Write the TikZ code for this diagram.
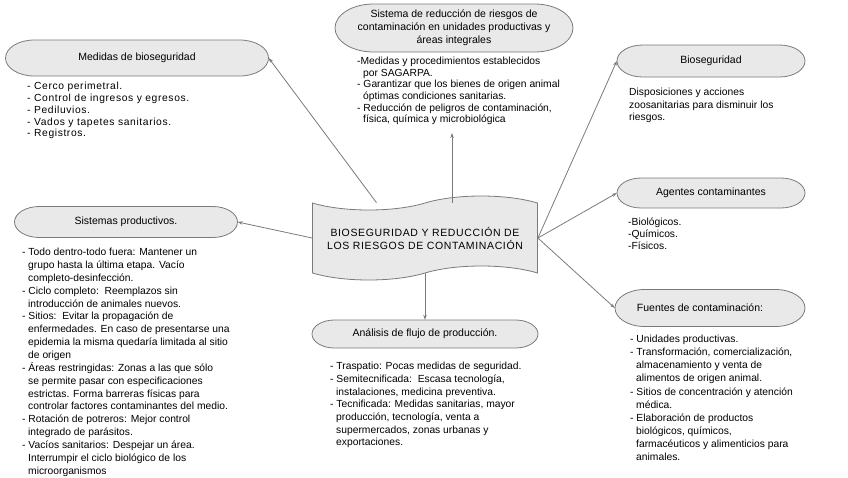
\documentclass[tikz,border=0pt]{standalone}
\usepackage{fontspec}
\setmainfont{Liberation Sans}
\newfontfamily\spacedfont[LetterSpace=6]{Liberation Sans}
\usetikzlibrary{shapes.symbols,arrows.meta,calc}

\definecolor{capfill}{HTML}{E9E9E9}
\definecolor{edgegray}{HTML}{7A7A7A}

\newcommand\ind{\hspace*{6pt}}
\newcommand\mycap[6]{%
  \pgfmathsetmacro\capE{0.8*#5}%
  \pgfmathsetmacro\capL{#2-#4/2+\capE}%
  \pgfmathsetmacro\capR{#2+#4/2-\capE}%
  \pgfmathsetmacro\capT{#3-#5/2}%
  \pgfmathsetmacro\capB{#3+#5/2}%
  \pgfmathsetmacro\capH{#5/2}%
  \filldraw[capsty] (\capL,\capT) arc[start angle=90,end angle=270,x radius=\capE pt,y radius=\capH pt]
    -- (\capR,\capB) arc[start angle=-90,end angle=90,x radius=\capE pt,y radius=\capH pt] -- cycle;
  \node[capnode,minimum width=#4pt,minimum height=#5pt] (#1) at (#2,#3) {#6};
}

\tikzset{
  capsty/.style={fill=capfill,draw=edgegray,line width=0.8pt},
  capnode/.style={draw=none,inner sep=0pt,align=center,font=\fontsize{10.5}{13}\selectfont},
  listtxt/.style={anchor=north west,inner sep=0pt,align=left},
  conn/.style={draw=edgegray,line width=0.8pt,-{Stealth[length=5pt,width=3.5pt]}},
  centerbox/.style={shape=tape,draw=edgegray,fill=capfill,line width=0.8pt,minimum width=225pt,minimum height=84pt,tape bend height=14pt,inner sep=0pt,align=center,font=\spacedfont\fontsize{10.5}{13}\selectfont}
}

\begin{document}
\begin{tikzpicture}[x=1pt,y=-1pt]
\useasboundingbox (0,0) rectangle (848,477);

% central box
\node[centerbox] (c) at (425,238) {BIOSEGURIDAD Y REDUCCIÓN DE\\LOS RIESGOS DE CONTAMINACIÓN};

% capsules
\mycap{medidas}{137}{58}{263}{36}{Medidas de bioseguridad}
\mycap{sistema}{454}{28}{238}{48}{Sistema de reducción de riesgos de\\contaminación en unidades productivas y\\áreas integrales}
\mycap{bio}{711}{61}{188}{32}{Bioseguridad}
\mycap{agentes}{711}{193}{188}{30}{Agentes contaminantes}
\mycap{fuentes}{710}{308}{190}{37}{\hspace*{-20pt}Fuentes de contaminación:}
\mycap{sistemas}{126}{222}{223}{31}{Sistemas productivos.}
\mycap{analisis}{425}{334}{226}{28}{Análisis de flujo de producción.}

% lists
\node[listtxt,font=\spacedfont\fontsize{10.3}{11.8}\selectfont] (lmedidas) at (27,82) {%
- Cerco perimetral.\\
- Control de ingresos y egresos.\\
- Pediluvios.\\
- Vados y tapetes sanitarios.\\
- Registros.};

\node[listtxt,font=\fontsize{10.3}{11.6}\selectfont] (lsistema) at (357,57) {%
-Medidas y procedimientos establecidos\\
\ind por SAGARPA.\\
- Garantizar que los bienes de origen animal\\
\ind óptimas condiciones sanitarias.\\
- Reducción de peligros de contaminación,\\
\ind física, química y microbiológica};

\node[listtxt,font=\fontsize{10.3}{12.5}\selectfont] (lbio) at (629,88) {%
Disposiciones y acciones\\
zoosanitarias para disminuir los\\
riesgos.};

\node[listtxt,font=\fontsize{10.3}{12}\selectfont] (lagentes) at (628,218) {%
-Biológicos.\\
-Químicos.\\
-Físicos.};

\node[listtxt,font=\fontsize{10.3}{13.1}\selectfont] (lfuentes) at (630,335) {%
- Unidades productivas.\\
- Transformación, comercialización,\\
\ind almacenamiento y venta de\\
\ind alimentos de origen animal.\\
- Sitios de concentración y atención\\
\ind médica.\\
- Elaboración de productos\\
\ind biológicos, químicos,\\
\ind farmacéuticos y alimenticios para\\
\ind animales.};

\node[listtxt,font=\fontsize{10.3}{12.85}\selectfont] (lsistemas) at (22,248) {%
- Todo dentro-todo fuera: Mantener un\\
\ind grupo hasta la última etapa. Vacío\\
\ind completo-desinfección.\\
- Ciclo completo:\ \ Reemplazos sin\\
\ind introducción de animales nuevos.\\
- Sitios:\ \ Evitar la propagación de\\
\ind enfermedades. En caso de presentarse una\\
\ind epidemia la misma quedaría limitada al sitio\\
\ind de origen\\
- Áreas restringidas: Zonas a las que sólo\\
\ind se permite pasar con especificaciones\\
\ind estrictas. Forma barreras físicas para\\
\ind controlar factores contaminantes del medio.\\
- Rotación de potreros: Mejor control\\
\ind integrado de parásitos.\\
- Vacíos sanitarios: Despejar un área.\\
\ind Interrumpir el ciclo biológico de los\\
\ind microorganismos};

\node[listtxt,font=\fontsize{10.3}{12.7}\selectfont] (lanalisis) at (330,362) {%
- Traspatio: Pocas medidas de seguridad.\\
- Semitecnificada:\ \ Escasa tecnología,\\
\ind instalaciones, medicina preventiva.\\
- Tecnificada: Medidas sanitarias, mayor\\
\ind producción, tecnología, venta a\\
\ind supermercados, zonas urbanas y\\
\ind exportaciones.};

% connectors
\coordinate (topend) at (452,133);
\draw[conn] ($(c.north west)!0.285!(c.north east)$) -- (medidas.east);
\draw[conn] (c.north -| topend) -- (topend);
\draw[conn] (c.east) -- (bio.west);
\draw[conn] (c.east) -- (agentes.west);
\draw[conn] (c.east) -- (fuentes.west);
\draw[conn] (c.west) -- (sistemas.east);
\draw[conn] (c.south) -- (analisis.north);
\end{tikzpicture}
\end{document}
